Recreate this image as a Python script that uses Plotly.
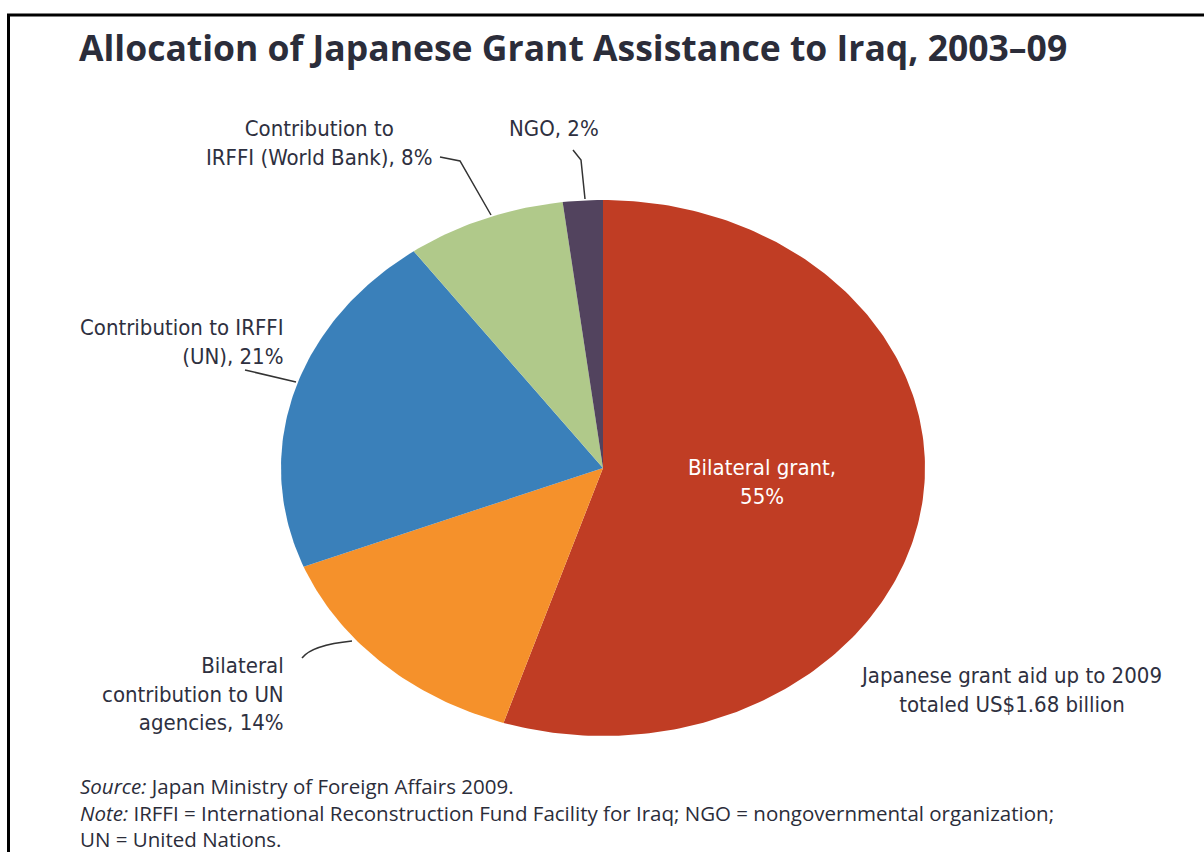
import numpy as np
import plotly.graph_objects as go

# ---- data ----
categories = [
    "Bilateral grant",
    "Bilateral contribution to UN agencies",
    "Contribution to IRFFI (UN)",
    "Contribution to IRFFI (World Bank)",
    "NGO",
]
shares = [55, 14, 21, 8, 2]
colors = ["#C03D24", "#F5912B", "#3A80BA", "#B0C98A", "#52435E"]

# ---- geometry (styles) ----
CX, CY, RX, RY = 603, 468, 322, 268
W, H = 1204, 852

fig = go.Figure()

total = float(sum(shares))
start = 0.0
for name, val, col in zip(categories, shares, colors):
    f0 = start / total
    f1 = (start + val) / total
    n = max(4, int(400 * (f1 - f0)))
    t = np.linspace(f0, f1, n) * 2 * np.pi
    xs = np.concatenate([[CX], CX + RX * np.sin(t), [CX]])
    ys = np.concatenate([[CY], CY - RY * np.cos(t), [CY]])
    fig.add_trace(go.Scatter(x=xs, y=ys, mode="lines", fill="toself",
                             fillcolor=col, line=dict(width=0, color=col),
                             name=name, hoverinfo="name", showlegend=False))
    start += val

LBL = "DejaVu Sans Condensed, Liberation Sans Narrow, sans-serif"
TXT = "#2E3040"
lab_font = dict(family=LBL, size=22, color=TXT)

def ann(x, y, text, xanchor="center", align="center", font=None, yanchor="middle"):
    fig.add_annotation(x=x, y=y, xref="x", yref="y", text=text, showarrow=False,
                       xanchor=xanchor, yanchor=yanchor, align=align,
                       font=font or lab_font)

# labels
ann(762, 482, f"{categories[0]},<br>{shares[0]}%",
    font=dict(family=LBL, size=22, color="white"))
ann(286, 694, f"Bilateral<br>contribution to UN<br>agencies, {shares[1]}%",
    xanchor="right", align="right")
ann(286, 342, f"Contribution to IRFFI<br>(UN), {shares[2]}%",
    xanchor="right", align="right")
ann(434, 143, f"Contribution to<br>IRFFI (World Bank), {shares[3]}%",
    xanchor="right", align="center")
ann(554, 128, f"{categories[4]}, {shares[4]}%")
ann(1011, 690, "Japanese grant aid up to 2009<br>totaled US$1.68 billion")

# title
fig.add_annotation(x=77, y=47, xref="x", yref="y", showarrow=False,
                   text="<b>Allocation of Japanese Grant Assistance to Iraq, 2003–09</b>",
                   xanchor="left", yanchor="middle",
                   font=dict(family="Open Sans, sans-serif", size=35.5, color="#2B2D3A"))

# footer (single block)
foot = dict(family="Open Sans, sans-serif", size=20.5, color="#2B2D3A")
ann(78, 812,
    "<i>Source:</i> Japan Ministry of Foreign Affairs 2009.<br>"
    "<i>Note:</i> IRFFI = International Reconstruction Fund Facility for Iraq; NGO = nongovernmental organization;<br>"
    "UN = United Nations.",
    xanchor="left", align="left", font=foot)

# leader lines
lc = dict(color="#333333", width=1.5)
for p in ["M 573 150 L 581 160 L 585 199",
          "M 440 157 L 460 161 L 491 215",
          "M 245 370 L 296 382",
          "M 302 658 Q 312 645 352 641"]:
    fig.add_shape(type="path", path=p, xref="x", yref="y", line=lc)

# frame lines
fig.add_shape(type="line", x0=7, x1=W, y0=15, y1=15, xref="x", yref="y",
              line=dict(color="black", width=3))
fig.add_shape(type="line", x0=8.5, x1=8.5, y0=14, y1=H, xref="x", yref="y",
              line=dict(color="black", width=3))

fig.update_layout(
    width=W, height=H, margin=dict(l=0, r=0, t=0, b=0),
    paper_bgcolor="white", plot_bgcolor="white",
    xaxis=dict(range=[0, W], visible=False, fixedrange=True),
    yaxis=dict(range=[H, 0], visible=False, fixedrange=True),
    showlegend=False,
)

fig.write_html("out.html", config={"displayModeBar": False},
               post_script="document.body.style.margin='0';")
